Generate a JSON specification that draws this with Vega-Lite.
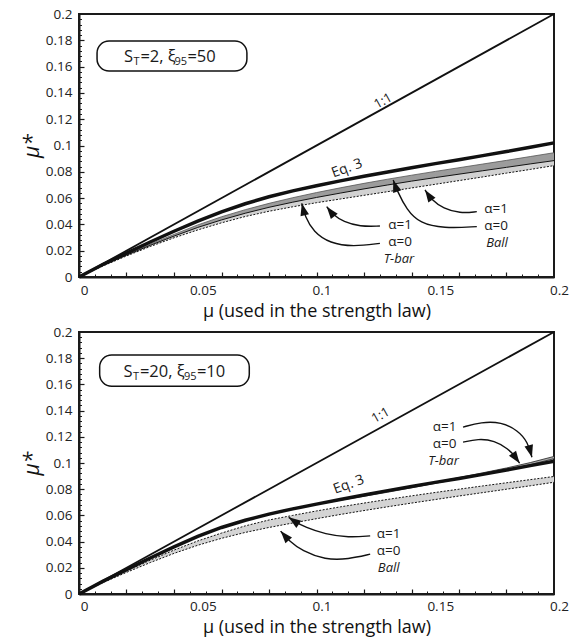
{
  "$schema": "https://vega.github.io/schema/vega-lite/v6.json",
  "padding": {"left": 20, "top": 6, "right": 8, "bottom": 0},
  "spacing": 2,
  "config": {
    "font": "Open Sans",
    "view": {"stroke": "#1a1a1a", "strokeWidth": 2},
    "axis": {"labelFont": "Open Sans", "titleFont": "Open Sans", "labelColor": "#222", "titleColor": "#111", "domainColor": "#1a1a1a", "tickColor": "#1a1a1a", "grid": false},
    "text": {"font": "Open Sans", "color": "#1a1a1a"}
  },
  "datasets": {
    "diag": [{"x": 0, "y": 0}, {"x": 0.2, "y": 0.2}],
    "top": [
      {"x": 0, "eq3": 0, "t_hi": 0, "t_lo": 0, "b_lo": 0},
      {"x": 0.01, "eq3": 0.0095, "t_hi": 0.009, "t_lo": 0.0087, "b_lo": 0.0083},
      {"x": 0.02, "eq3": 0.0182, "t_hi": 0.0172, "t_lo": 0.0166, "b_lo": 0.016},
      {"x": 0.03, "eq3": 0.0266, "t_hi": 0.025, "t_lo": 0.0241, "b_lo": 0.0232},
      {"x": 0.04, "eq3": 0.0348, "t_hi": 0.0324, "t_lo": 0.0311, "b_lo": 0.0298},
      {"x": 0.05, "eq3": 0.0425, "t_hi": 0.0396, "t_lo": 0.0377, "b_lo": 0.0358},
      {"x": 0.06, "eq3": 0.0495, "t_hi": 0.0458, "t_lo": 0.0434, "b_lo": 0.0412},
      {"x": 0.07, "eq3": 0.0557, "t_hi": 0.0512, "t_lo": 0.0485, "b_lo": 0.046},
      {"x": 0.08, "eq3": 0.061, "t_hi": 0.056, "t_lo": 0.053, "b_lo": 0.05},
      {"x": 0.09, "eq3": 0.0655, "t_hi": 0.0603, "t_lo": 0.0569, "b_lo": 0.0534},
      {"x": 0.1, "eq3": 0.0694, "t_hi": 0.0642, "t_lo": 0.0605, "b_lo": 0.0565},
      {"x": 0.11, "eq3": 0.0731, "t_hi": 0.0678, "t_lo": 0.0638, "b_lo": 0.0593},
      {"x": 0.12, "eq3": 0.0766, "t_hi": 0.0712, "t_lo": 0.067, "b_lo": 0.0621},
      {"x": 0.13, "eq3": 0.0799, "t_hi": 0.0744, "t_lo": 0.07, "b_lo": 0.0649},
      {"x": 0.14, "eq3": 0.0831, "t_hi": 0.0774, "t_lo": 0.0729, "b_lo": 0.0677},
      {"x": 0.15, "eq3": 0.0862, "t_hi": 0.0803, "t_lo": 0.0756, "b_lo": 0.0705},
      {"x": 0.16, "eq3": 0.0892, "t_hi": 0.0831, "t_lo": 0.0782, "b_lo": 0.0733},
      {"x": 0.17, "eq3": 0.0923, "t_hi": 0.0859, "t_lo": 0.0808, "b_lo": 0.0761},
      {"x": 0.18, "eq3": 0.0954, "t_hi": 0.0887, "t_lo": 0.0834, "b_lo": 0.079},
      {"x": 0.19, "eq3": 0.0986, "t_hi": 0.0916, "t_lo": 0.086, "b_lo": 0.0818},
      {"x": 0.2, "eq3": 0.102, "t_hi": 0.0945, "t_lo": 0.0885, "b_lo": 0.0847}
    ],
    "bot": [
      {"x": 0, "eq3": 0, "t_hi": 0, "t_lo": 0, "b_hi": 0, "b_lo": 0},
      {"x": 0.01, "eq3": 0.0096, "t_hi": 0.0096, "t_lo": 0.0096, "b_hi": 0.0091, "b_lo": 0.0086},
      {"x": 0.02, "eq3": 0.0186, "t_hi": 0.0186, "t_lo": 0.0186, "b_hi": 0.0176, "b_lo": 0.0165},
      {"x": 0.03, "eq3": 0.0275, "t_hi": 0.0275, "t_lo": 0.0275, "b_hi": 0.0258, "b_lo": 0.024},
      {"x": 0.04, "eq3": 0.036, "t_hi": 0.036, "t_lo": 0.036, "b_hi": 0.0335, "b_lo": 0.031},
      {"x": 0.05, "eq3": 0.044, "t_hi": 0.044, "t_lo": 0.044, "b_hi": 0.0405, "b_lo": 0.0372},
      {"x": 0.06, "eq3": 0.0508, "t_hi": 0.0508, "t_lo": 0.0508, "b_hi": 0.0465, "b_lo": 0.0425},
      {"x": 0.07, "eq3": 0.0563, "t_hi": 0.0563, "t_lo": 0.0563, "b_hi": 0.052, "b_lo": 0.047},
      {"x": 0.08, "eq3": 0.061, "t_hi": 0.061, "t_lo": 0.061, "b_hi": 0.0565, "b_lo": 0.0508},
      {"x": 0.09, "eq3": 0.065, "t_hi": 0.065, "t_lo": 0.065, "b_hi": 0.06, "b_lo": 0.0542},
      {"x": 0.1, "eq3": 0.0686, "t_hi": 0.0686, "t_lo": 0.0684, "b_hi": 0.0634, "b_lo": 0.0575},
      {"x": 0.11, "eq3": 0.0721, "t_hi": 0.072, "t_lo": 0.0716, "b_hi": 0.0665, "b_lo": 0.0607},
      {"x": 0.12, "eq3": 0.0756, "t_hi": 0.0752, "t_lo": 0.0746, "b_hi": 0.0694, "b_lo": 0.0637},
      {"x": 0.13, "eq3": 0.0789, "t_hi": 0.0784, "t_lo": 0.0777, "b_hi": 0.0722, "b_lo": 0.0666},
      {"x": 0.14, "eq3": 0.0821, "t_hi": 0.0818, "t_lo": 0.0811, "b_hi": 0.0749, "b_lo": 0.0694},
      {"x": 0.15, "eq3": 0.0852, "t_hi": 0.0853, "t_lo": 0.0845, "b_hi": 0.0775, "b_lo": 0.0721},
      {"x": 0.16, "eq3": 0.0882, "t_hi": 0.0889, "t_lo": 0.0879, "b_hi": 0.08, "b_lo": 0.0748},
      {"x": 0.17, "eq3": 0.0913, "t_hi": 0.0925, "t_lo": 0.0913, "b_hi": 0.0825, "b_lo": 0.0774},
      {"x": 0.18, "eq3": 0.0946, "t_hi": 0.0962, "t_lo": 0.0948, "b_hi": 0.0849, "b_lo": 0.08},
      {"x": 0.19, "eq3": 0.098, "t_hi": 0.1003, "t_lo": 0.0987, "b_hi": 0.0873, "b_lo": 0.0826},
      {"x": 0.2, "eq3": 0.1014, "t_hi": 0.105, "t_lo": 0.1033, "b_hi": 0.0897, "b_lo": 0.0853}
    ],
    "arrTop": [
      {"id": "a1", "seq": 1, "x": 0.1267, "y": 0.0256}, {"id": "a1", "seq": 2, "x": 0.1155, "y": 0.023}, {"id": "a1", "seq": 3, "x": 0.1057, "y": 0.0256}, {"id": "a1", "seq": 4, "x": 0.0987, "y": 0.0344}, {"id": "a1", "seq": 5, "x": 0.0952, "y": 0.0459}, {"id": "a1", "seq": 6, "x": 0.0938, "y": 0.056},
      {"id": "a2", "seq": 1, "x": 0.1267, "y": 0.0388}, {"id": "a2", "seq": 2, "x": 0.1183, "y": 0.0383}, {"id": "a2", "seq": 3, "x": 0.1113, "y": 0.0421}, {"id": "a2", "seq": 4, "x": 0.1071, "y": 0.0471}, {"id": "a2", "seq": 6, "x": 0.1043, "y": 0.0535},
      {"id": "a3", "seq": 1, "x": 0.1675, "y": 0.0383}, {"id": "a3", "seq": 2, "x": 0.1534, "y": 0.037}, {"id": "a3", "seq": 3, "x": 0.1436, "y": 0.0408}, {"id": "a3", "seq": 4, "x": 0.138, "y": 0.051}, {"id": "a3", "seq": 5, "x": 0.1338, "y": 0.0662}, {"id": "a3", "seq": 6, "x": 0.1323, "y": 0.0738},
      {"id": "a4", "seq": 1, "x": 0.1675, "y": 0.0497}, {"id": "a4", "seq": 2, "x": 0.1604, "y": 0.0484}, {"id": "a4", "seq": 3, "x": 0.1534, "y": 0.0522}, {"id": "a4", "seq": 4, "x": 0.1485, "y": 0.0586}, {"id": "a4", "seq": 6, "x": 0.1457, "y": 0.0662}
    ],
    "arrBot": [
      {"id": "b1", "seq": 1, "x": 0.1617, "y": 0.1274}, {"id": "b1", "seq": 2, "x": 0.1694, "y": 0.1313}, {"id": "b1", "seq": 3, "x": 0.1778, "y": 0.1313}, {"id": "b1", "seq": 4, "x": 0.1848, "y": 0.1249}, {"id": "b1", "seq": 5, "x": 0.189, "y": 0.1159}, {"id": "b1", "seq": 6, "x": 0.1907, "y": 0.1044},
      {"id": "b2", "seq": 1, "x": 0.1617, "y": 0.1159}, {"id": "b2", "seq": 2, "x": 0.168, "y": 0.1185}, {"id": "b2", "seq": 3, "x": 0.175, "y": 0.1172}, {"id": "b2", "seq": 4, "x": 0.1806, "y": 0.1109}, {"id": "b2", "seq": 5, "x": 0.1841, "y": 0.1044}, {"id": "b2", "seq": 6, "x": 0.1855, "y": 0.0998},
      {"id": "b3", "seq": 1, "x": 0.1226, "y": 0.0444}, {"id": "b3", "seq": 2, "x": 0.1135, "y": 0.0431}, {"id": "b3", "seq": 3, "x": 0.1037, "y": 0.0457}, {"id": "b3", "seq": 4, "x": 0.0953, "y": 0.0508}, {"id": "b3", "seq": 5, "x": 0.0904, "y": 0.0559}, {"id": "b3", "seq": 6, "x": 0.0883, "y": 0.0585},
      {"id": "b4", "seq": 1, "x": 0.1226, "y": 0.0304}, {"id": "b4", "seq": 2, "x": 0.1135, "y": 0.0266}, {"id": "b4", "seq": 3, "x": 0.1036, "y": 0.0261}, {"id": "b4", "seq": 4, "x": 0.0939, "y": 0.033}, {"id": "b4", "seq": 5, "x": 0.0885, "y": 0.0405}, {"id": "b4", "seq": 6, "x": 0.0849, "y": 0.048}
    ],
    "lblTop": [
      {"t": "α=1", "k": "r", "x": 0.1352, "y": 0.0398},
      {"t": "α=0", "k": "r", "x": 0.1352, "y": 0.0268},
      {"t": "T-bar", "k": "i", "x": 0.1347, "y": 0.0138},
      {"t": "α=1", "k": "r", "x": 0.1756, "y": 0.0515},
      {"t": "α=0", "k": "r", "x": 0.1756, "y": 0.0385},
      {"t": "Ball", "k": "i", "x": 0.176, "y": 0.0255},
      {"t": "1:1", "k": "d", "x": 0.128, "y": 0.1338},
      {"t": "Eq. 3", "k": "e", "x": 0.1128, "y": 0.0826}
    ],
    "lblBot": [
      {"t": "α=1", "k": "r", "x": 0.1539, "y": 0.1278},
      {"t": "α=0", "k": "r", "x": 0.1539, "y": 0.1148},
      {"t": "T-bar", "k": "i", "x": 0.1535, "y": 0.1018},
      {"t": "α=1", "k": "r", "x": 0.1304, "y": 0.0455},
      {"t": "α=0", "k": "r", "x": 0.1304, "y": 0.0325},
      {"t": "Ball", "k": "i", "x": 0.1304, "y": 0.0195},
      {"t": "1:1", "k": "d", "x": 0.127, "y": 0.1364},
      {"t": "Eq. 3", "k": "e", "x": 0.1136, "y": 0.0835}
    ],
    "boxTop": [{"x": 0.0076, "x2": 0.0707, "y": 0.1567, "y2": 0.1795, "tx": 0.0189, "ty": 0.1635, "p1": "S", "p2": "T", "p3": "=2, ξ", "p4": "95", "p5": "=50"}],
    "boxBot": [{"x": 0.0087, "x2": 0.0717, "y": 0.1586, "y2": 0.1824, "tx": 0.0187, "ty": 0.1655, "p1": "S", "p2": "T", "p3": "=20, ξ", "p4": "95", "p5": "=10"}]
  },
  "vconcat": [
    {
      "width": 475, "height": 263,
      "resolve": {"axis": {"x": "independent", "y": "independent"}},
      "layer": [
        {"data": {"name": "top"}, "mark": {"type": "area", "color": "#d2d2d2"},
         "encoding": {"x": {"field": "x", "type": "quantitative", "axis": null}, "y": {"field": "b_lo", "type": "quantitative", "axis": null}, "y2": {"field": "t_lo"}}},
        {"data": {"name": "top"}, "mark": {"type": "area", "color": "#9c9c9c"},
         "encoding": {"x": {"field": "x", "type": "quantitative", "axis": null}, "y": {"field": "t_lo", "type": "quantitative", "axis": null}, "y2": {"field": "t_hi"}}},
        {"data": {"name": "top"}, "mark": {"type": "line", "color": "#555", "strokeWidth": 0.8},
         "encoding": {"x": {"field": "x", "type": "quantitative", "axis": null}, "y": {"field": "t_hi", "type": "quantitative", "axis": null}}},
        {"data": {"name": "top"}, "mark": {"type": "line", "color": "#111", "strokeWidth": 1},
         "encoding": {
           "x": {"field": "x", "type": "quantitative", "axis": {"orient": "bottom", "values": [0.02, 0.04, 0.06, 0.08, 0.1, 0.12, 0.14, 0.16, 0.18], "labels": false, "domain": false, "title": null, "tickSize": -5, "tickWidth": 1.2}},
           "y": {"field": "t_lo", "type": "quantitative", "axis": {"orient": "left", "values": [0.02, 0.04, 0.06, 0.08, 0.1, 0.12, 0.14, 0.16, 0.18], "labels": false, "domain": false, "title": null, "tickSize": -5, "tickWidth": 1.2}}}},
        {"data": {"name": "top"}, "mark": {"type": "line", "color": "#111", "strokeWidth": 1, "strokeDash": [2, 1.5]},
         "encoding": {
           "x": {"field": "x", "type": "quantitative", "axis": {"orient": "bottom", "values": [0.006667, 0.013333, 0.026667, 0.033333, 0.046667, 0.053333, 0.066667, 0.073333, 0.086667, 0.093333, 0.106667, 0.113333, 0.126667, 0.133333, 0.146667, 0.153333, 0.166667, 0.173333, 0.186667, 0.193333], "labels": false, "domain": false, "title": null, "tickSize": -3, "tickWidth": 1}},
           "y": {"field": "b_lo", "type": "quantitative", "axis": {"orient": "left", "values": [0.004, 0.008, 0.012, 0.016, 0.024, 0.028, 0.032, 0.036, 0.044, 0.048, 0.052, 0.056, 0.064, 0.068, 0.072, 0.076, 0.084, 0.088, 0.092, 0.096, 0.104, 0.108, 0.112, 0.116, 0.124, 0.128, 0.132, 0.136, 0.144, 0.148, 0.152, 0.156, 0.164, 0.168, 0.172, 0.176, 0.184, 0.188, 0.192, 0.196], "labels": false, "domain": false, "title": null, "tickSize": -2.5, "tickWidth": 1}}}},
        {"data": {"name": "top"}, "mark": {"type": "line", "color": "#111", "strokeWidth": 3.5},
         "encoding": {"x": {"field": "x", "type": "quantitative", "axis": null}, "y": {"field": "eq3", "type": "quantitative", "axis": null}}},
        {"data": {"name": "diag"}, "mark": {"type": "line", "color": "#111", "strokeWidth": 1.8},
         "encoding": {
           "x": {"field": "x", "type": "quantitative", "scale": {"domain": [0, 0.2]}, "axis": {"orient": "bottom", "values": [0, 0.05, 0.1, 0.15, 0.2], "ticks": false, "labelExpr": "format(datum.value, '~g')", "labelFlush": false, "labelPadding": 6, "labelOffset": 5, "labelFontSize": 13.5, "domainWidth": 2, "title": "μ (used in the strength law)", "titleFontSize": 18, "titleFontWeight": "normal", "titlePadding": 6}},
           "y": {"field": "y", "type": "quantitative", "scale": {"domain": [0, 0.2]}, "axis": {"orient": "left", "values": [0, 0.02, 0.04, 0.06, 0.08, 0.1, 0.12, 0.14, 0.16, 0.18, 0.2], "ticks": false, "labelExpr": "format(datum.value, '~g')", "labelPadding": 7, "labelFontSize": 13.5, "domainWidth": 2, "title": "μ*", "titleFontSize": 21, "titleFontStyle": "italic", "titleFontWeight": "normal", "titlePadding": 3}}}},
        {"data": {"name": "arrTop"}, "mark": {"type": "line", "interpolate": "basis", "color": "#111", "strokeWidth": 1.4},
         "encoding": {"x": {"field": "x", "type": "quantitative", "axis": null}, "y": {"field": "y", "type": "quantitative", "axis": null}, "detail": {"field": "id"}, "order": {"field": "seq"}}},
        {"data": {"name": "arrTop"}, "transform": [{"filter": "datum.id === 'a1' && datum.seq === 6"}], "mark": {"type": "point", "shape": "M0,0L-0.6,1.7L0.6,1.7Z", "filled": true, "color": "#111", "opacity": 1, "size": 210, "angle": -14},
         "encoding": {"x": {"field": "x", "type": "quantitative", "axis": null}, "y": {"field": "y", "type": "quantitative", "axis": null}}},
        {"data": {"name": "arrTop"}, "transform": [{"filter": "datum.id === 'a2' && datum.seq === 6"}], "mark": {"type": "point", "shape": "M0,0L-0.6,1.7L0.6,1.7Z", "filled": true, "color": "#111", "opacity": 1, "size": 210, "angle": -38},
         "encoding": {"x": {"field": "x", "type": "quantitative", "axis": null}, "y": {"field": "y", "type": "quantitative", "axis": null}}},
        {"data": {"name": "arrTop"}, "transform": [{"filter": "datum.id === 'a3' && datum.seq === 6"}], "mark": {"type": "point", "shape": "M0,0L-0.6,1.7L0.6,1.7Z", "filled": true, "color": "#111", "opacity": 1, "size": 210, "angle": -19},
         "encoding": {"x": {"field": "x", "type": "quantitative", "axis": null}, "y": {"field": "y", "type": "quantitative", "axis": null}}},
        {"data": {"name": "arrTop"}, "transform": [{"filter": "datum.id === 'a4' && datum.seq === 6"}], "mark": {"type": "point", "shape": "M0,0L-0.6,1.7L0.6,1.7Z", "filled": true, "color": "#111", "opacity": 1, "size": 210, "angle": -34},
         "encoding": {"x": {"field": "x", "type": "quantitative", "axis": null}, "y": {"field": "y", "type": "quantitative", "axis": null}}},
        {"data": {"name": "lblTop"}, "transform": [{"filter": "datum.k === 'r'"}], "mark": {"type": "text", "fontSize": 13.5, "align": "center", "baseline": "middle"},
         "encoding": {"x": {"field": "x", "type": "quantitative", "axis": null}, "y": {"field": "y", "type": "quantitative", "axis": null}, "text": {"field": "t"}}},
        {"data": {"name": "lblTop"}, "transform": [{"filter": "datum.k === 'i'"}], "mark": {"type": "text", "fontSize": 13, "fontStyle": "italic", "align": "center", "baseline": "middle"},
         "encoding": {"x": {"field": "x", "type": "quantitative", "axis": null}, "y": {"field": "y", "type": "quantitative", "axis": null}, "text": {"field": "t"}}},
        {"data": {"name": "lblTop"}, "transform": [{"filter": "datum.k === 'd'"}], "mark": {"type": "text", "fontSize": 13, "angle": -29, "align": "center", "baseline": "middle"},
         "encoding": {"x": {"field": "x", "type": "quantitative", "axis": null}, "y": {"field": "y", "type": "quantitative", "axis": null}, "text": {"field": "t"}}},
        {"data": {"name": "lblTop"}, "transform": [{"filter": "datum.k === 'e'"}], "mark": {"type": "text", "fontSize": 14, "angle": -20, "align": "center", "baseline": "middle"},
         "encoding": {"x": {"field": "x", "type": "quantitative", "axis": null}, "y": {"field": "y", "type": "quantitative", "axis": null}, "text": {"field": "t"}}},
        {"data": {"name": "boxTop"}, "mark": {"type": "rect", "fill": "white", "stroke": "#111", "strokeWidth": 1.5, "cornerRadius": 12},
         "encoding": {"x": {"field": "x", "type": "quantitative", "axis": null}, "x2": {"field": "x2"}, "y": {"field": "y", "type": "quantitative", "axis": null}, "y2": {"field": "y2"}}},
        {"data": {"name": "boxTop"}, "mark": {"type": "text", "fontSize": 16.5, "align": "left", "baseline": "alphabetic"},
         "encoding": {"x": {"field": "tx", "type": "quantitative", "axis": null}, "y": {"field": "ty", "type": "quantitative", "axis": null}, "text": {"field": "p1"}}},
        {"data": {"name": "boxTop"}, "mark": {"type": "text", "fontSize": 11, "align": "left", "baseline": "alphabetic", "dx": 9.5, "dy": 3},
         "encoding": {"x": {"field": "tx", "type": "quantitative", "axis": null}, "y": {"field": "ty", "type": "quantitative", "axis": null}, "text": {"field": "p2"}}},
        {"data": {"name": "boxTop"}, "mark": {"type": "text", "fontSize": 16.5, "align": "left", "baseline": "alphabetic", "dx": 16.5},
         "encoding": {"x": {"field": "tx", "type": "quantitative", "axis": null}, "y": {"field": "ty", "type": "quantitative", "axis": null}, "text": {"field": "p3"}}},
        {"data": {"name": "boxTop"}, "mark": {"type": "text", "fontSize": 11, "align": "left", "baseline": "alphabetic", "dx": 50.5, "dy": 3},
         "encoding": {"x": {"field": "tx", "type": "quantitative", "axis": null}, "y": {"field": "ty", "type": "quantitative", "axis": null}, "text": {"field": "p4"}}},
        {"data": {"name": "boxTop"}, "mark": {"type": "text", "fontSize": 16.5, "align": "left", "baseline": "alphabetic", "dx": 63.5},
         "encoding": {"x": {"field": "tx", "type": "quantitative", "axis": null}, "y": {"field": "ty", "type": "quantitative", "axis": null}, "text": {"field": "p5"}}}
      ]
    },
    {
      "width": 475, "height": 262,
      "resolve": {"axis": {"x": "independent", "y": "independent"}},
      "layer": [
        {"data": {"name": "bot"}, "mark": {"type": "area", "color": "#d4d4d4"},
         "encoding": {"x": {"field": "x", "type": "quantitative", "axis": null}, "y": {"field": "b_lo", "type": "quantitative", "axis": null}, "y2": {"field": "b_hi"}}},
        {"data": {"name": "bot"}, "mark": {"type": "area", "color": "#aaaaaa"},
         "encoding": {"x": {"field": "x", "type": "quantitative", "axis": null}, "y": {"field": "t_lo", "type": "quantitative", "axis": null}, "y2": {"field": "t_hi"}}},
        {"data": {"name": "bot"}, "mark": {"type": "line", "color": "#111", "strokeWidth": 1, "strokeDash": [2, 1.5]},
         "encoding": {"x": {"field": "x", "type": "quantitative", "axis": null}, "y": {"field": "b_hi", "type": "quantitative", "axis": null}}},
        {"data": {"name": "bot"}, "mark": {"type": "line", "color": "#111", "strokeWidth": 1, "strokeDash": [2, 1.5]},
         "encoding": {
           "x": {"field": "x", "type": "quantitative", "axis": {"orient": "bottom", "values": [0.02, 0.04, 0.06, 0.08, 0.1, 0.12, 0.14, 0.16, 0.18], "labels": false, "domain": false, "title": null, "tickSize": -5, "tickWidth": 1.2}},
           "y": {"field": "b_lo", "type": "quantitative", "axis": {"orient": "left", "values": [0.02, 0.04, 0.06, 0.08, 0.1, 0.12, 0.14, 0.16, 0.18], "labels": false, "domain": false, "title": null, "tickSize": -5, "tickWidth": 1.2}}}},
        {"data": {"name": "bot"}, "mark": {"type": "line", "color": "#333", "strokeWidth": 0.9},
         "encoding": {
           "x": {"field": "x", "type": "quantitative", "axis": {"orient": "bottom", "values": [0.006667, 0.013333, 0.026667, 0.033333, 0.046667, 0.053333, 0.066667, 0.073333, 0.086667, 0.093333, 0.106667, 0.113333, 0.126667, 0.133333, 0.146667, 0.153333, 0.166667, 0.173333, 0.186667, 0.193333], "labels": false, "domain": false, "title": null, "tickSize": -3, "tickWidth": 1}},
           "y": {"field": "t_hi", "type": "quantitative", "axis": {"orient": "left", "values": [0.004, 0.008, 0.012, 0.016, 0.024, 0.028, 0.032, 0.036, 0.044, 0.048, 0.052, 0.056, 0.064, 0.068, 0.072, 0.076, 0.084, 0.088, 0.092, 0.096, 0.104, 0.108, 0.112, 0.116, 0.124, 0.128, 0.132, 0.136, 0.144, 0.148, 0.152, 0.156, 0.164, 0.168, 0.172, 0.176, 0.184, 0.188, 0.192, 0.196], "labels": false, "domain": false, "title": null, "tickSize": -2.5, "tickWidth": 1}}}},
        {"data": {"name": "bot"}, "mark": {"type": "line", "color": "#333", "strokeWidth": 0.9},
         "encoding": {"x": {"field": "x", "type": "quantitative", "axis": null}, "y": {"field": "t_lo", "type": "quantitative", "axis": null}}},
        {"data": {"name": "bot"}, "mark": {"type": "line", "color": "#111", "strokeWidth": 3.5},
         "encoding": {"x": {"field": "x", "type": "quantitative", "axis": null}, "y": {"field": "eq3", "type": "quantitative", "axis": null}}},
        {"data": {"name": "diag"}, "mark": {"type": "line", "color": "#111", "strokeWidth": 1.8},
         "encoding": {
           "x": {"field": "x", "type": "quantitative", "scale": {"domain": [0, 0.2]}, "axis": {"orient": "bottom", "values": [0, 0.05, 0.1, 0.15, 0.2], "ticks": false, "labelExpr": "format(datum.value, '~g')", "labelFlush": false, "labelPadding": 5, "labelOffset": 5, "labelFontSize": 13.5, "domainWidth": 2, "title": "μ (used in the strength law)", "titleFontSize": 18, "titleFontWeight": "normal", "titlePadding": 6}},
           "y": {"field": "y", "type": "quantitative", "scale": {"domain": [0, 0.2]}, "axis": {"orient": "left", "values": [0, 0.02, 0.04, 0.06, 0.08, 0.1, 0.12, 0.14, 0.16, 0.18, 0.2], "ticks": false, "labelExpr": "format(datum.value, '~g')", "labelPadding": 7, "labelFontSize": 13.5, "domainWidth": 2, "title": "μ*", "titleFontSize": 21, "titleFontStyle": "italic", "titleFontWeight": "normal", "titlePadding": 3}}}},
        {"data": {"name": "arrBot"}, "mark": {"type": "line", "interpolate": "basis", "color": "#111", "strokeWidth": 1.4},
         "encoding": {"x": {"field": "x", "type": "quantitative", "axis": null}, "y": {"field": "y", "type": "quantitative", "axis": null}, "detail": {"field": "id"}, "order": {"field": "seq"}}},
        {"data": {"name": "arrBot"}, "transform": [{"filter": "datum.id === 'b1' && datum.seq === 6"}], "mark": {"type": "point", "shape": "M0,0L-0.6,1.7L0.6,1.7Z", "filled": true, "color": "#111", "opacity": 1, "size": 210, "angle": 165},
         "encoding": {"x": {"field": "x", "type": "quantitative", "axis": null}, "y": {"field": "y", "type": "quantitative", "axis": null}}},
        {"data": {"name": "arrBot"}, "transform": [{"filter": "datum.id === 'b2' && datum.seq === 6"}], "mark": {"type": "point", "shape": "M0,0L-0.6,1.7L0.6,1.7Z", "filled": true, "color": "#111", "opacity": 1, "size": 210, "angle": 145},
         "encoding": {"x": {"field": "x", "type": "quantitative", "axis": null}, "y": {"field": "y", "type": "quantitative", "axis": null}}},
        {"data": {"name": "arrBot"}, "transform": [{"filter": "datum.id === 'b3' && datum.seq === 6"}], "mark": {"type": "point", "shape": "M0,0L-0.6,1.7L0.6,1.7Z", "filled": true, "color": "#111", "opacity": 1, "size": 210, "angle": -55},
         "encoding": {"x": {"field": "x", "type": "quantitative", "axis": null}, "y": {"field": "y", "type": "quantitative", "axis": null}}},
        {"data": {"name": "arrBot"}, "transform": [{"filter": "datum.id === 'b4' && datum.seq === 6"}], "mark": {"type": "point", "shape": "M0,0L-0.6,1.7L0.6,1.7Z", "filled": true, "color": "#111", "opacity": 1, "size": 210, "angle": -41},
         "encoding": {"x": {"field": "x", "type": "quantitative", "axis": null}, "y": {"field": "y", "type": "quantitative", "axis": null}}},
        {"data": {"name": "lblBot"}, "transform": [{"filter": "datum.k === 'r'"}], "mark": {"type": "text", "fontSize": 13.5, "align": "center", "baseline": "middle"},
         "encoding": {"x": {"field": "x", "type": "quantitative", "axis": null}, "y": {"field": "y", "type": "quantitative", "axis": null}, "text": {"field": "t"}}},
        {"data": {"name": "lblBot"}, "transform": [{"filter": "datum.k === 'i'"}], "mark": {"type": "text", "fontSize": 13, "fontStyle": "italic", "align": "center", "baseline": "middle"},
         "encoding": {"x": {"field": "x", "type": "quantitative", "axis": null}, "y": {"field": "y", "type": "quantitative", "axis": null}, "text": {"field": "t"}}},
        {"data": {"name": "lblBot"}, "transform": [{"filter": "datum.k === 'd'"}], "mark": {"type": "text", "fontSize": 13, "angle": -29, "align": "center", "baseline": "middle"},
         "encoding": {"x": {"field": "x", "type": "quantitative", "axis": null}, "y": {"field": "y", "type": "quantitative", "axis": null}, "text": {"field": "t"}}},
        {"data": {"name": "lblBot"}, "transform": [{"filter": "datum.k === 'e'"}], "mark": {"type": "text", "fontSize": 14, "angle": -20, "align": "center", "baseline": "middle"},
         "encoding": {"x": {"field": "x", "type": "quantitative", "axis": null}, "y": {"field": "y", "type": "quantitative", "axis": null}, "text": {"field": "t"}}},
        {"data": {"name": "boxBot"}, "mark": {"type": "rect", "fill": "white", "stroke": "#111", "strokeWidth": 1.5, "cornerRadius": 12},
         "encoding": {"x": {"field": "x", "type": "quantitative", "axis": null}, "x2": {"field": "x2"}, "y": {"field": "y", "type": "quantitative", "axis": null}, "y2": {"field": "y2"}}},
        {"data": {"name": "boxBot"}, "mark": {"type": "text", "fontSize": 16.5, "align": "left", "baseline": "alphabetic"},
         "encoding": {"x": {"field": "tx", "type": "quantitative", "axis": null}, "y": {"field": "ty", "type": "quantitative", "axis": null}, "text": {"field": "p1"}}},
        {"data": {"name": "boxBot"}, "mark": {"type": "text", "fontSize": 11, "align": "left", "baseline": "alphabetic", "dx": 9.5, "dy": 3},
         "encoding": {"x": {"field": "tx", "type": "quantitative", "axis": null}, "y": {"field": "ty", "type": "quantitative", "axis": null}, "text": {"field": "p2"}}},
        {"data": {"name": "boxBot"}, "mark": {"type": "text", "fontSize": 16.5, "align": "left", "baseline": "alphabetic", "dx": 16.5},
         "encoding": {"x": {"field": "tx", "type": "quantitative", "axis": null}, "y": {"field": "ty", "type": "quantitative", "axis": null}, "text": {"field": "p3"}}},
        {"data": {"name": "boxBot"}, "mark": {"type": "text", "fontSize": 11, "align": "left", "baseline": "alphabetic", "dx": 60.5, "dy": 3},
         "encoding": {"x": {"field": "tx", "type": "quantitative", "axis": null}, "y": {"field": "ty", "type": "quantitative", "axis": null}, "text": {"field": "p4"}}},
        {"data": {"name": "boxBot"}, "mark": {"type": "text", "fontSize": 16.5, "align": "left", "baseline": "alphabetic", "dx": 73.5},
         "encoding": {"x": {"field": "tx", "type": "quantitative", "axis": null}, "y": {"field": "ty", "type": "quantitative", "axis": null}, "text": {"field": "p5"}}}
      ]
    }
  ]
}
